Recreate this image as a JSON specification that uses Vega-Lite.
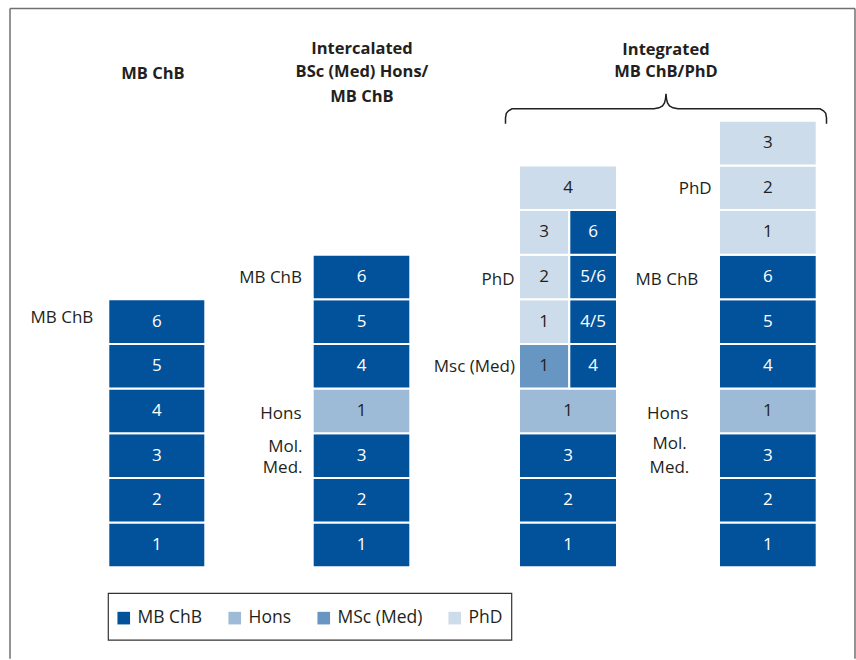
{
  "$schema": "https://vega.github.io/schema/vega-lite/v6.json",
  "width": 856,
  "height": 660,
  "padding": 0,
  "autosize": {"type": "fit", "contains": "padding"},
  "background": "white",
  "config": {"view": {"stroke": null}, "font": "Open Sans"},
  "datasets": {
    "cells": [
      {"stack": "MB ChB", "x0": 108.3, "x1": 205.3, "bottom": 0, "top": 1, "program": "MB ChB", "label": "1"},
      {"stack": "MB ChB", "x0": 108.3, "x1": 205.3, "bottom": 1, "top": 2, "program": "MB ChB", "label": "2"},
      {"stack": "MB ChB", "x0": 108.3, "x1": 205.3, "bottom": 2, "top": 3, "program": "MB ChB", "label": "3"},
      {"stack": "MB ChB", "x0": 108.3, "x1": 205.3, "bottom": 3, "top": 4, "program": "MB ChB", "label": "4"},
      {"stack": "MB ChB", "x0": 108.3, "x1": 205.3, "bottom": 4, "top": 5, "program": "MB ChB", "label": "5"},
      {"stack": "MB ChB", "x0": 108.3, "x1": 205.3, "bottom": 5, "top": 6, "program": "MB ChB", "label": "6"},
      {"stack": "Intercalated", "x0": 312.7, "x1": 410.3, "bottom": 0, "top": 1, "program": "MB ChB", "label": "1"},
      {"stack": "Intercalated", "x0": 312.7, "x1": 410.3, "bottom": 1, "top": 2, "program": "MB ChB", "label": "2"},
      {"stack": "Intercalated", "x0": 312.7, "x1": 410.3, "bottom": 2, "top": 3, "program": "MB ChB", "label": "3"},
      {"stack": "Intercalated", "x0": 312.7, "x1": 410.3, "bottom": 3, "top": 4, "program": "Hons", "label": "1"},
      {"stack": "Intercalated", "x0": 312.7, "x1": 410.3, "bottom": 4, "top": 5, "program": "MB ChB", "label": "4"},
      {"stack": "Intercalated", "x0": 312.7, "x1": 410.3, "bottom": 5, "top": 6, "program": "MB ChB", "label": "5"},
      {"stack": "Intercalated", "x0": 312.7, "x1": 410.3, "bottom": 6, "top": 7, "program": "MB ChB", "label": "6"},
      {"stack": "Integrated A", "x0": 519, "x1": 617, "bottom": 0, "top": 1, "program": "MB ChB", "label": "1"},
      {"stack": "Integrated A", "x0": 519, "x1": 617, "bottom": 1, "top": 2, "program": "MB ChB", "label": "2"},
      {"stack": "Integrated A", "x0": 519, "x1": 617, "bottom": 2, "top": 3, "program": "MB ChB", "label": "3"},
      {"stack": "Integrated A", "x0": 519, "x1": 617, "bottom": 3, "top": 4, "program": "Hons", "label": "1"},
      {"stack": "Integrated A", "x0": 519, "x1": 569.3, "bottom": 4, "top": 5, "program": "MSc (Med)", "label": "1"},
      {"stack": "Integrated A", "x0": 569.3, "x1": 617, "bottom": 4, "top": 5, "program": "MB ChB", "label": "4"},
      {"stack": "Integrated A", "x0": 519, "x1": 569.3, "bottom": 5, "top": 6, "program": "PhD", "label": "1"},
      {"stack": "Integrated A", "x0": 569.3, "x1": 617, "bottom": 5, "top": 6, "program": "MB ChB", "label": "4/5"},
      {"stack": "Integrated A", "x0": 519, "x1": 569.3, "bottom": 6, "top": 7, "program": "PhD", "label": "2"},
      {"stack": "Integrated A", "x0": 569.3, "x1": 617, "bottom": 6, "top": 7, "program": "MB ChB", "label": "5/6"},
      {"stack": "Integrated A", "x0": 519, "x1": 569.3, "bottom": 7, "top": 8, "program": "PhD", "label": "3"},
      {"stack": "Integrated A", "x0": 569.3, "x1": 617, "bottom": 7, "top": 8, "program": "MB ChB", "label": "6"},
      {"stack": "Integrated A", "x0": 519, "x1": 617, "bottom": 8, "top": 9, "program": "PhD", "label": "4"},
      {"stack": "Integrated B", "x0": 719, "x1": 816.7, "bottom": 0, "top": 1, "program": "MB ChB", "label": "1"},
      {"stack": "Integrated B", "x0": 719, "x1": 816.7, "bottom": 1, "top": 2, "program": "MB ChB", "label": "2"},
      {"stack": "Integrated B", "x0": 719, "x1": 816.7, "bottom": 2, "top": 3, "program": "MB ChB", "label": "3"},
      {"stack": "Integrated B", "x0": 719, "x1": 816.7, "bottom": 3, "top": 4, "program": "Hons", "label": "1"},
      {"stack": "Integrated B", "x0": 719, "x1": 816.7, "bottom": 4, "top": 5, "program": "MB ChB", "label": "4"},
      {"stack": "Integrated B", "x0": 719, "x1": 816.7, "bottom": 5, "top": 6, "program": "MB ChB", "label": "5"},
      {"stack": "Integrated B", "x0": 719, "x1": 816.7, "bottom": 6, "top": 7, "program": "MB ChB", "label": "6"},
      {"stack": "Integrated B", "x0": 719, "x1": 816.7, "bottom": 7, "top": 8, "program": "PhD", "label": "1"},
      {"stack": "Integrated B", "x0": 719, "x1": 816.7, "bottom": 8, "top": 9, "program": "PhD", "label": "2"},
      {"stack": "Integrated B", "x0": 719, "x1": 816.7, "bottom": 9, "top": 10, "program": "PhD", "label": "3"}
    ],
    "sidelabels": [
      {"text": "MB ChB", "x": 93.3, "y": 5.593},
      {"text": "MB ChB", "x": 302, "y": 6.488},
      {"text": "Hons", "x": 301.5, "y": 3.423},
      {"text": "Mol.", "x": 302.5, "y": 2.696},
      {"text": "Med.", "x": 302.5, "y": 2.215},
      {"text": "PhD", "x": 514.5, "y": 6.443},
      {"text": "Msc (Med)", "x": 515, "y": 4.474},
      {"text": "PhD", "x": 711.7, "y": 8.463},
      {"text": "MB ChB", "x": 698.3, "y": 6.443},
      {"text": "Hons", "x": 688.3, "y": 3.438},
      {"text": "Mol.", "x": 686.7, "y": 2.756},
      {"text": "Med.", "x": 689.3, "y": 2.221}
    ],
    "headers": [
      {"text": "MB ChB", "x": 153, "y": 11.06},
      {"text": "Intercalated", "x": 362, "y": 11.6},
      {"text": "BSc (Med) Hons/", "x": 362, "y": 11.085},
      {"text": "MB ChB", "x": 362, "y": 10.544},
      {"text": "Integrated", "x": 666, "y": 11.596},
      {"text": "MB ChB/PhD", "x": 666, "y": 11.085}
    ],
    "brace": [
      {"order": 1, "x": 505.5, "y": 9.933},
      {"order": 2, "x": 505.5, "y": 10.067},
      {"order": 3, "x": 506.3, "y": 10.168},
      {"order": 4, "x": 508.5, "y": 10.224},
      {"order": 5, "x": 512, "y": 10.268},
      {"order": 6, "x": 654, "y": 10.268},
      {"order": 7, "x": 659, "y": 10.291},
      {"order": 8, "x": 662.5, "y": 10.336},
      {"order": 9, "x": 664.5, "y": 10.403},
      {"order": 10, "x": 665.5, "y": 10.492},
      {"order": 11, "x": 666, "y": 10.604},
      {"order": 12, "x": 666.5, "y": 10.492},
      {"order": 13, "x": 667.5, "y": 10.403},
      {"order": 14, "x": 669.5, "y": 10.336},
      {"order": 15, "x": 673, "y": 10.291},
      {"order": 16, "x": 678, "y": 10.268},
      {"order": 17, "x": 820, "y": 10.268},
      {"order": 18, "x": 823.5, "y": 10.224},
      {"order": 19, "x": 825.7, "y": 10.168},
      {"order": 20, "x": 826.5, "y": 10.067},
      {"order": 21, "x": 826.5, "y": 9.933}
    ],
    "frame": [
      {"x": 10, "y": 12.517, "x2": 10, "y2": -2.05},
      {"x": 10, "y": 12.517, "x2": 855, "y2": 12.517},
      {"x": 855, "y": 12.517, "x2": 855, "y2": -2.05}
    ],
    "legendbox": [
      {"x": 108.3, "x2": 511.7, "y": -0.588, "y2": -1.633}
    ]
  },
  "layer": [
    {
      "data": {"name": "frame"},
      "mark": {"type": "rule", "stroke": "#707070", "strokeWidth": 1.5},
      "encoding": {
        "x": {"field": "x", "type": "quantitative", "scale": {"domain": [0, 856], "nice": false, "zero": false}, "axis": null},
        "y": {"field": "y", "type": "quantitative", "scale": {"domain": [-2.058, 12.707], "nice": false, "zero": false}, "axis": null},
        "x2": {"field": "x2"},
        "y2": {"field": "y2"}
      }
    },
    {
      "data": {"name": "legendbox"},
      "mark": {"type": "rect", "fill": null, "fillOpacity": 0, "stroke": "#333333", "strokeWidth": 1.2},
      "encoding": {
        "x": {"field": "x", "type": "quantitative", "scale": {"domain": [0, 856], "nice": false, "zero": false}, "axis": null},
        "y": {"field": "y", "type": "quantitative", "scale": {"domain": [-2.058, 12.707], "nice": false, "zero": false}, "axis": null},
        "x2": {"field": "x2"},
        "y2": {"field": "y2"}
      }
    },
    {
      "data": {"name": "cells"},
      "mark": {"type": "rect", "stroke": "white", "strokeWidth": 2},
      "encoding": {
        "x": {"field": "x0", "type": "quantitative", "scale": {"domain": [0, 856], "nice": false, "zero": false}, "axis": null},
        "x2": {"field": "x1"},
        "y": {"field": "bottom", "type": "quantitative", "scale": {"domain": [-2.058, 12.707], "nice": false, "zero": false}, "axis": null},
        "y2": {"field": "top"},
        "color": {
          "field": "program",
          "type": "nominal",
          "scale": {"domain": ["MB ChB", "Hons", "MSc (Med)", "PhD"], "range": ["#02529b", "#9dbbd6", "#6796c3", "#cddcea"]},
          "legend": {
            "orient": "none",
            "legendX": 115,
            "legendY": 609,
            "direction": "horizontal",
            "columns": 4,
            "title": null,
            "symbolType": "square",
            "symbolSize": 159,
            "symbolStrokeWidth": 0,
            "labelFont": "Open Sans",
            "labelFontSize": 17.5,
            "labelColor": "#231f20",
            "labelOffset": 5,
            "columnPadding": 23,
            "padding": 0
          }
        }
      }
    },
    {
      "data": {"name": "cells"},
      "transform": [
        {"calculate": "(datum.x0 + datum.x1) / 2", "as": "cx"},
        {"calculate": "(datum.bottom + datum.top) / 2", "as": "cy"}
      ],
      "mark": {"type": "text", "font": "Open Sans", "fontSize": 17, "align": "center", "baseline": "middle"},
      "encoding": {
        "x": {"field": "cx", "type": "quantitative", "scale": {"domain": [0, 856], "nice": false, "zero": false}, "axis": null},
        "y": {"field": "cy", "type": "quantitative", "scale": {"domain": [-2.058, 12.707], "nice": false, "zero": false}, "axis": null},
        "text": {"field": "label"},
        "color": {"condition": {"test": "datum.program === 'MB ChB'", "value": "#ffffff"}, "value": "#231f20"}
      }
    },
    {
      "data": {"name": "sidelabels"},
      "mark": {"type": "text", "font": "Open Sans", "fontSize": 17, "align": "right", "baseline": "middle", "color": "#231f20"},
      "encoding": {
        "x": {"field": "x", "type": "quantitative", "scale": {"domain": [0, 856], "nice": false, "zero": false}, "axis": null},
        "y": {"field": "y", "type": "quantitative", "scale": {"domain": [-2.058, 12.707], "nice": false, "zero": false}, "axis": null},
        "text": {"field": "text"}
      }
    },
    {
      "data": {"name": "headers"},
      "mark": {"type": "text", "font": "Open Sans", "fontSize": 16.5, "fontWeight": "bold", "align": "center", "baseline": "middle", "color": "#231f20"},
      "encoding": {
        "x": {"field": "x", "type": "quantitative", "scale": {"domain": [0, 856], "nice": false, "zero": false}, "axis": null},
        "y": {"field": "y", "type": "quantitative", "scale": {"domain": [-2.058, 12.707], "nice": false, "zero": false}, "axis": null},
        "text": {"field": "text"}
      }
    },
    {
      "data": {"name": "brace"},
      "mark": {"type": "line", "stroke": "#231f20", "strokeWidth": 1.5, "interpolate": "linear"},
      "encoding": {
        "x": {"field": "x", "type": "quantitative", "scale": {"domain": [0, 856], "nice": false, "zero": false}, "axis": null},
        "y": {"field": "y", "type": "quantitative", "scale": {"domain": [-2.058, 12.707], "nice": false, "zero": false}, "axis": null},
        "order": {"field": "order", "type": "quantitative"}
      }
    }
  ]
}
